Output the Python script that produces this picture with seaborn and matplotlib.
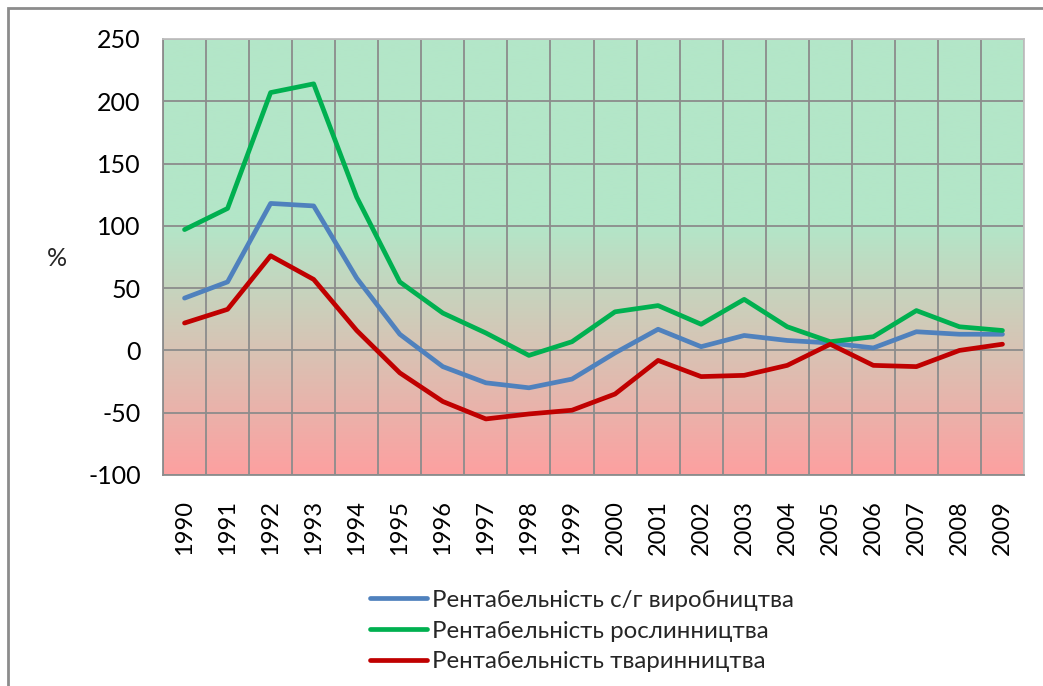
import numpy as np
import pandas as pd
import matplotlib
matplotlib.use("Agg")
import matplotlib.pyplot as plt
from matplotlib.patches import Rectangle
import seaborn as sns

years = list(range(1990, 2010))
agri = [42, 55, 118, 116, 58, 13, -13, -26, -30, -23, -2, 17, 3, 12, 8, 6, 2, 15, 13, 13]
crop = [97, 114, 207, 214, 123, 55, 30, 14, -4, 7, 31, 36, 21, 41, 19, 7, 11, 32, 19, 16]
livestock = [22, 33, 76, 57, 16, -18, -41, -55, -51, -48, -35, -8, -21, -20, -12, 5, -12, -13, 0, 5]
series_names = ["Рентабельність с/г виробництва",
                "Рентабельність рослинництва",
                "Рентабельність тваринництва"]
colors = ["#4F81BD", "#00B050", "#C00000"]
y_ticks = [-100, -50, 0, 50, 100, 150, 200, 250]

df = pd.DataFrame({
    "year": years * 3,
    "value": agri + crop + livestock,
    "series": [series_names[0]] * 20 + [series_names[1]] * 20 + [series_names[2]] * 20,
})

sns.set_style("white")
plt.rcParams["font.family"] = ["Lato", "Noto Sans", "DejaVu Sans"]

fig = plt.figure(figsize=(10.43, 6.86), dpi=100)
ax = fig.add_axes([163 / 1043, 1 - 475 / 686, (1024 - 163) / 1043, (475 - 39) / 686])

# gradient background
green = np.array([179, 230, 200]) / 255
pink = np.array([253, 160, 160]) / 255
vals = np.linspace(250, -100, 400)
t = np.clip((100 - vals) / 200, 0, 1)
grad = (1 - t)[:, None] * green + t[:, None] * pink
ax.imshow(grad[:, None, :], extent=(1989.5, 2009.5, -100, 250), aspect="auto",
          zorder=0, interpolation="bilinear")

sns.lineplot(data=df, x="year", y="value", hue="series", hue_order=series_names,
             palette=colors, linewidth=3.4, ax=ax, legend=False, zorder=3,
             solid_capstyle="round")

ax.set_xlim(1989.5, 2009.5)
ax.set_ylim(-100, 250)
ax.set_yticks(y_ticks)
ax.set_yticklabels([str(v) for v in y_ticks], fontsize=18)
ax.set_xticks(years)
ax.set_xticklabels([str(y) for y in years], rotation=90, fontsize=17)
ax.set_xticks(np.arange(1989.5, 2010, 1), minor=True)
ax.grid(False)
ax.grid(True, which="minor", axis="x", color="#8C8C8C", linewidth=1.3, zorder=1)
ax.grid(True, which="major", axis="y", color="#8C8C8C", linewidth=1.3, zorder=1)
for l in ax.get_xgridlines() + ax.get_ygridlines():
    l.set_zorder(1)
ax.tick_params(axis="y", which="major", length=9, width=1.3, color="#8C8C8C", pad=7, labelcolor="black")
ax.tick_params(axis="x", which="major", length=0, pad=18, labelcolor="black")
ax.tick_params(axis="x", which="minor", length=0)
ax.set_xlabel("")
ax.set_ylabel("")
for s in ax.spines.values():
    s.set_color("#8C8C8C")
    s.set_linewidth(1.3)
    s.set_visible(True)
ax.spines["top"].set_color("#BFBFBF")
ax.spines["right"].set_color("#BFBFBF")

fig.text(57 / 1043, 1 - 258 / 686, "%", fontsize=18, ha="center", va="center")

handles = [plt.Line2D([0], [0], color=c, linewidth=3.4) for c in colors]
fig.legend(handles, series_names, loc="center", bbox_to_anchor=(582 / 1043, 1 - 631 / 686),
           frameon=False, fontsize=17.3, handlelength=2.4, handletextpad=0.2,
           labelspacing=0.4, borderpad=0)

fig.patches.append(Rectangle((8 / 1043, -0.05), 1.1, 1 - 8 / 686 + 0.05,
                             transform=fig.transFigure, fill=False,
                             edgecolor="#8C8C8C", linewidth=2))

fig.savefig("out.png", dpi=100)
